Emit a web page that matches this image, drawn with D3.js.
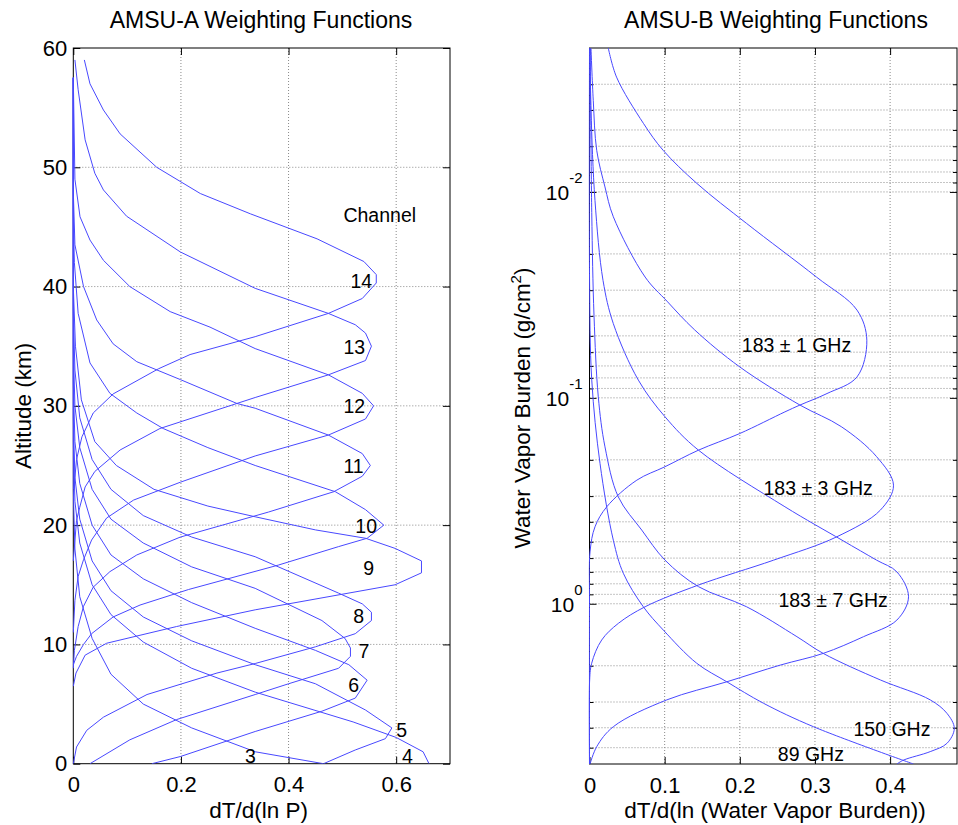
<!DOCTYPE html>
<html>
<head>
<meta charset="utf-8">
<style>
    body { margin: 0; background: #fff; }
    svg { display: block; font-family: 'Liberation Sans', Arial, Helvetica, sans-serif; }
    .grid line { stroke: #8a8a8a; stroke-width: 1; stroke-dasharray: 1, 2; }
    .axis .domain { display: none; }
    .axis .tick line { stroke: #000; }
    .axis .tick text { font-size: 22px; fill: #000; }
    .frame { fill: none; stroke: #000; stroke-width: 1; }
    .wf { fill: none; stroke: #4848ff; stroke-width: 1; }
    .title { font-size: 23px; text-anchor: middle; }
    .axis-label { font-size: 22.5px; text-anchor: middle; }
    .note { font-size: 19.5px; }
</style>
</head>
<body>
<svg width="958" height="825"></svg>

<script src="https://d3js.org/d3.v7.min.js"></script>
<script>
    // ---- AMSU-A weighting functions: [dT/d(ln P), altitude km], top to bottom
    let ch14 = [[0.0205, 59.0], [0.031, 57.0], [0.056, 54.8], [0.087, 52.8], [0.155, 50.0], [0.236, 47.8], [0.329, 46.1], [0.453, 44.0], [0.54, 42.1], [0.563, 41.0], [0.563, 40.3], [0.537, 39.0], [0.474, 37.75], [0.338, 35.8], [0.217, 34.3], [0.158, 33.1], [0.074, 31.0], [0.037, 29.4], [0.016, 27.4], [0.006, 25.5], [0.001, 23.0]]
    let ch13 = [[0.003, 59.0], [0.009, 56.5], [0.022, 52.3], [0.040, 49.5], [0.056, 48.1], [0.099, 45.9], [0.199, 42.9], [0.338, 39.85], [0.474, 37.75], [0.524, 36.8], [0.543, 36.1], [0.554, 35.0], [0.543, 33.8], [0.474, 32.6], [0.338, 30.7], [0.161, 28.1], [0.087, 26.3], [0.040, 24.5], [0.022, 23.2], [0.012, 21.5], [0.006, 20.4], [0.0, 17.0]]
    let ch12 = [[0.0, 57.5], [0.003, 49.0], [0.0125, 45.85], [0.031, 43.9], [0.056, 42.2], [0.105, 40.0], [0.18, 37.9], [0.254, 36.6], [0.338, 34.8], [0.474, 32.6], [0.537, 31.05], [0.558, 30.0], [0.543, 28.9], [0.474, 27.55], [0.338, 25.8], [0.199, 23.6], [0.112, 22.1], [0.062, 20.6], [0.034, 18.75], [0.019, 17.1], [0.009, 15.7], [0.003, 13.7], [0.0, 11.0]]
    let ch11 = [[0.0, 57.5], [0.0, 48.0], [0.003, 43.5], [0.019, 40.0], [0.0435, 37.2], [0.074, 35.2], [0.118, 33.7], [0.199, 32.2], [0.304, 30.2], [0.338, 29.8], [0.474, 27.55], [0.537, 26.0], [0.552, 25.0], [0.537, 24.1], [0.484, 22.8], [0.363, 21.1], [0.199, 19.0], [0.118, 17.5], [0.068, 16.1], [0.037, 14.8], [0.019, 13.2], [0.009, 11.5], [0.002, 9.5], [0.0, 8.0]]
    let ch10 = [[0.0, 57.5], [0.0, 46.0], [0.002, 42.0], [0.009, 37.75], [0.031, 33.6], [0.068, 31.05], [0.118, 29.4], [0.167, 28.1], [0.25, 26.5], [0.338, 25.0], [0.487, 22.8], [0.543, 21.3], [0.577, 20.0], [0.546, 18.9], [0.493, 18.2], [0.381, 16.65], [0.214, 14.6], [0.124, 13.3], [0.074, 12.3], [0.034, 10.9], [0.019, 10.0], [0.006, 9.0], [0.0, 8.3]]
    let ch9 = [[0.0, 57.5], [0.0, 40.0], [0.004, 35.0], [0.015, 30.5], [0.04, 27.0], [0.08, 25.0], [0.15, 23.0], [0.25, 21.6], [0.338, 20.7], [0.45, 19.6], [0.543, 18.9], [0.598, 18.05], [0.647, 17.0], [0.647, 16.0], [0.598, 15.0], [0.338, 12.9], [0.192, 11.5], [0.062, 10.1], [0.022, 9.1], [0.005, 7.6], [0.0, 6.5]]
    let ch8 = [[0.0, 57.5], [0.0, 38.0], [0.003, 33.0], [0.012, 29.0], [0.035, 25.5], [0.07, 23.0], [0.13, 20.8], [0.22, 19.0], [0.338, 17.35], [0.493, 14.3], [0.537, 13.4], [0.554, 12.7], [0.554, 12.0], [0.524, 10.9], [0.450, 9.8], [0.338, 8.4], [0.267, 7.6], [0.137, 5.8], [0.056, 3.9], [0.025, 2.8], [0.006, 1.4], [0.0, 0.0]]
    let ch7 = [[0.0, 57.5], [0.0, 35.0], [0.003, 30.0], [0.012, 26.5], [0.035, 23.0], [0.07, 20.5], [0.13, 18.5], [0.22, 16.5], [0.338, 14.7], [0.462, 12.0], [0.505, 10.5], [0.515, 9.7], [0.515, 9.0], [0.493, 8.0], [0.4, 6.7], [0.338, 5.8], [0.192, 3.7], [0.105, 2.0], [0.031, 0.0]]
    let ch6 = [[0.0, 57.5], [0.0, 32.0], [0.003, 27.0], [0.012, 23.5], [0.035, 20.0], [0.07, 17.5], [0.13, 15.5], [0.22, 13.5], [0.338, 11.35], [0.45, 9.5], [0.512, 8.3], [0.546, 7.0], [0.524, 5.5], [0.462, 4.4], [0.338, 2.7], [0.199, 0.6], [0.146, 0.0]]
    let ch5 = [[0.0, 57.5], [0.0, 29.0], [0.003, 24.0], [0.012, 20.5], [0.035, 17.0], [0.07, 14.5], [0.13, 12.3], [0.22, 10.3], [0.338, 8.3], [0.45, 6.7], [0.543, 4.5], [0.592, 3.0], [0.58, 2.1], [0.524, 1.15], [0.465, 0.0]]
    let ch4 = [[0.0, 57.5], [0.0, 27.0], [0.003, 22.0], [0.012, 18.5], [0.035, 15.0], [0.07, 12.5], [0.13, 10.2], [0.22, 8.0], [0.338, 6.0], [0.52, 3.5], [0.6, 2.2], [0.65, 1.0], [0.661, 0.0]]
    let ch3 = [[0.0, 57.5], [0.0, 23.0], [0.003, 18.0], [0.012, 14.0], [0.035, 10.5], [0.07, 7.5], [0.13, 5.0], [0.22, 3.0], [0.338, 1.0], [0.465, 0.0]]

    let amsuA = [ch3, ch4, ch5, ch6, ch7, ch8, ch9, ch10, ch11, ch12, ch13, ch14]

    // channel labels and where they sit, [dT/d(ln P), altitude]
    let amsuANames = ["Channel", "14", "13", "12", "11", "10", "9", "8", "7", "6", "5", "4", "3"]
    let amsuANameAt = [[0.502, 45.4], [0.515, 39.85], [0.502, 34.35], [0.502, 29.4], [0.502, 24.35], [0.524, 19.3], [0.539, 15.8], [0.52, 11.8], [0.530, 8.85], [0.511, 6.0], [0.600, 2.25], [0.611, 0.1], [0.319, 0.1]]

    // ---- AMSU-B weighting functions: [dT/d(ln burden), burden g/cm2], top to bottom
    let b183p1 = [[0.025, 0.0020], [0.036, 0.00277], [0.072, 0.00466], [0.098, 0.00628], [0.143, 0.0091], [0.209, 0.01422], [0.302, 0.0259], [0.356, 0.0375], [0.369, 0.0525], [0.356, 0.0791], [0.316, 0.0953], [0.280, 0.1084], [0.260, 0.117], [0.2, 0.149], [0.145, 0.1795], [0.1005, 0.216], [0.063, 0.251], [0.023, 0.338], [0.0073, 0.423], [0.0007, 0.56], [0.0, 1.0], [0.0, 6.0]]
    let b183p3 = [[0.002, 0.00201], [0.005, 0.00359], [0.0096, 0.00628], [0.0206, 0.00946], [0.0317, 0.0132], [0.074, 0.0259], [0.103, 0.0339], [0.14, 0.0468], [0.2, 0.0708], [0.28, 0.1084], [0.335, 0.138], [0.382, 0.193], [0.4045, 0.2655], [0.387, 0.351], [0.329, 0.473], [0.245, 0.614], [0.145, 0.811], [0.074, 1.034], [0.0384, 1.245], [0.0162, 1.50], [0.0029, 1.945], [0.0, 2.43], [0.0, 6.0]]
    let b183p7 = [[0.0005, 0.0020], [0.002, 0.004], [0.0073, 0.011], [0.018, 0.0269], [0.0317, 0.0436], [0.065, 0.082], [0.1005, 0.1236], [0.145, 0.1795], [0.26, 0.338], [0.336, 0.491], [0.382, 0.614], [0.409, 0.70], [0.4245, 0.925], [0.409, 1.20], [0.3646, 1.445], [0.311, 1.742], [0.2537, 1.986], [0.1827, 2.393], [0.1028, 2.93], [0.0317, 3.954], [0.0096, 4.943], [0.0007, 6.0]]
    let b150 = [[0.001, 0.0020], [0.003, 0.0126], [0.006, 0.0398], [0.0117, 0.0989], [0.0206, 0.173], [0.0384, 0.303], [0.0695, 0.4385], [0.1005, 0.614], [0.145, 0.826], [0.209, 1.034], [0.276, 1.445], [0.311, 1.742], [0.387, 2.344], [0.4534, 2.93], [0.4756, 3.404], [0.4854, 4.027], [0.4756, 4.764], [0.4534, 5.224], [0.418, 5.741], [0.409, 6.0]]
    let b89 = [[0.0, 0.0020], [0.0, 0.025], [0.003, 0.082], [0.014, 0.2084], [0.0317, 0.491], [0.045, 0.711], [0.0716, 1.034], [0.0983, 1.343], [0.1427, 1.945], [0.1827, 2.393], [0.2314, 3.041], [0.298, 3.954], [0.431, 6.0]]

    let amsuB = [b183p1, b183p3, b183p7, b150, b89]
    let amsuBNames = ["183 \u00b1 1 GHz", "183 \u00b1 3 GHz", "183 \u00b1 7 GHz", "150 GHz", "89 GHz"]
    let amsuBNameAt = [[0.2027, 0.06], [0.2315, 0.2965], [0.2514, 1.034], [0.3513, 4.385], [0.2506, 5.78]]

    // ticks
    let altTicks = [0, 10, 20, 30, 40, 50, 60]
    let dtpTicks = [0, 0.2, 0.4, 0.6]
    let dtbTicks = [0, 0.1, 0.2, 0.3, 0.4]
    let burdenMajor = [0.01, 0.1, 1]
    let burdenExp = ["-2", "-1", "0"]
    let burdenMinor = [0.003, 0.004, 0.005, 0.006, 0.007, 0.008, 0.009,
        0.02, 0.03, 0.04, 0.05, 0.06, 0.07, 0.08, 0.09,
        0.2, 0.3, 0.4, 0.5, 0.6, 0.7, 0.8, 0.9,
        2, 3, 4, 5]

    let svg = d3.select("svg")
    let numFmt = d => d === 0 ? "0" : d3.format(".1f")(d)

    // ===================== left panel =====================
    let A = { left: 73.3, right: 450, top: 48, bottom: 763.7 }

    let xA = d3.scaleLinear().domain([0, 0.7]).range([A.left, A.right])
    let yA = d3.scaleLinear().domain([0, 60]).range([A.bottom, A.top])

    let gA = svg.append("g")

    // grid
    gA.append("g").attr("class", "grid")
        .selectAll("line").data(dtpTicks.slice(1))
        .join("line")
        .attr("x1", d => xA(d)).attr("x2", d => xA(d))
        .attr("y1", A.top).attr("y2", A.bottom)
    gA.append("g").attr("class", "grid")
        .selectAll("line").data(altTicks.slice(1, -1))
        .join("line")
        .attr("x1", A.left).attr("x2", A.right)
        .attr("y1", d => yA(d)).attr("y2", d => yA(d))

    // axes with inward ticks
    gA.append("g").attr("class", "axis")
        .attr("transform", `translate(0,${A.bottom})`)
        .call(d3.axisBottom(xA).tickValues(dtpTicks).tickFormat(numFmt).tickSizeInner(-7).tickSizeOuter(0).tickPadding(13))
    gA.append("g").attr("class", "axis")
        .attr("transform", `translate(0,${A.top})`)
        .call(d3.axisTop(xA).tickValues(dtpTicks).tickFormat("").tickSizeInner(-7).tickSizeOuter(0))
    gA.append("g").attr("class", "axis")
        .attr("transform", `translate(${A.left},0)`)
        .call(d3.axisLeft(yA).tickValues(altTicks).tickSizeInner(-7).tickSizeOuter(0).tickPadding(6))
    gA.append("g").attr("class", "axis")
        .attr("transform", `translate(${A.right},0)`)
        .call(d3.axisRight(yA).tickValues(altTicks).tickFormat("").tickSizeInner(-7).tickSizeOuter(0))

    gA.append("rect").attr("class", "frame")
        .attr("x", A.left).attr("y", A.top)
        .attr("width", A.right - A.left).attr("height", A.bottom - A.top)

    svg.append("clipPath").attr("id", "clipA")
        .append("rect")
        .attr("x", A.left - 1).attr("y", A.top)
        .attr("width", A.right - A.left + 1).attr("height", A.bottom - A.top)

    let lineA = d3.line()
        .x(d => xA(d[0]))
        .y(d => yA(d[1]))

    gA.append("g").attr("clip-path", "url(#clipA)")
        .selectAll("path").data(amsuA)
        .join("path")
        .attr("class", "wf")
        .attr("d", lineA)

    gA.append("g").selectAll("text").data(amsuANames)
        .join("text")
        .attr("class", "note")
        .attr("x", (d, i) => xA(amsuANameAt[i][0]))
        .attr("y", (d, i) => yA(amsuANameAt[i][1]))
        .text(d => d)

    svg.append("text").attr("class", "title")
        .attr("x", 261).attr("y", 28)
        .text("AMSU-A Weighting Functions")
    svg.append("text").attr("class", "axis-label")
        .attr("x", (A.left + A.right) / 2 - 3).attr("y", 818)
        .text("dT/d(ln P)")
    svg.append("text").attr("class", "axis-label")
        .attr("transform", `translate(31,${(A.top + A.bottom) / 2}) rotate(-90)`)
        .text("Altitude (km)")

    // ===================== right panel =====================
    let B = { left: 589.5, right: 957, top: 48, bottom: 764 }

    let xB = d3.scaleLinear().domain([0, 0.489]).range([B.left, B.right])
    let yB = d3.scaleLog().domain([0.002, 6]).range([B.top, B.bottom])

    let gB = svg.append("g")

    gB.append("g").attr("class", "grid")
        .selectAll("line").data(dtbTicks.slice(1))
        .join("line")
        .attr("x1", d => xB(d)).attr("x2", d => xB(d))
        .attr("y1", B.top).attr("y2", B.bottom)
    gB.append("g").attr("class", "grid")
        .selectAll("line").data(burdenMajor.concat(burdenMinor))
        .join("line")
        .attr("x1", B.left).attr("x2", B.right)
        .attr("y1", d => yB(d)).attr("y2", d => yB(d))

    gB.append("g").attr("class", "axis")
        .attr("transform", `translate(0,${B.bottom})`)
        .call(d3.axisBottom(xB).tickValues(dtbTicks).tickFormat(numFmt).tickSizeInner(-7).tickSizeOuter(0).tickPadding(13))
    gB.append("g").attr("class", "axis")
        .attr("transform", `translate(0,${B.top})`)
        .call(d3.axisTop(xB).tickValues(dtbTicks).tickFormat("").tickSizeInner(-7).tickSizeOuter(0))
    gB.append("g").attr("class", "axis")
        .attr("transform", `translate(${B.left},0)`)
        .call(d3.axisLeft(yB).tickValues(burdenMajor).tickFormat("").tickSizeInner(-7).tickSizeOuter(0))
    gB.append("g").attr("class", "axis")
        .attr("transform", `translate(${B.left},0)`)
        .call(d3.axisLeft(yB).tickValues(burdenMinor).tickFormat("").tickSizeInner(-4).tickSizeOuter(0))
    gB.append("g").attr("class", "axis")
        .attr("transform", `translate(${B.right},0)`)
        .call(d3.axisRight(yB).tickValues(burdenMajor).tickFormat("").tickSizeInner(-7).tickSizeOuter(0))
    gB.append("g").attr("class", "axis")
        .attr("transform", `translate(${B.right},0)`)
        .call(d3.axisRight(yB).tickValues(burdenMinor).tickFormat("").tickSizeInner(-4).tickSizeOuter(0))

    // 10^n labels
    let powLabels = gB.append("g").selectAll("text").data(burdenMajor)
        .join("text")
        .attr("x", B.left - 7)
        .attr("y", d => yB(d) + 8)
        .attr("text-anchor", "end")
        .style("font-size", "21px")
    powLabels.append("tspan").text("10")
    powLabels.append("tspan")
        .attr("dy", -17)
        .style("font-size", "15px")
        .text((d, i) => burdenExp[i])

    gB.append("rect").attr("class", "frame")
        .attr("x", B.left).attr("y", B.top)
        .attr("width", B.right - B.left).attr("height", B.bottom - B.top)

    svg.append("clipPath").attr("id", "clipB")
        .append("rect")
        .attr("x", B.left - 1).attr("y", B.top)
        .attr("width", B.right - B.left + 1).attr("height", B.bottom - B.top)

    let lineB = d3.line()
        .x(d => xB(d[0]))
        .y(d => yB(d[1]))
        .curve(d3.curveCatmullRom.alpha(0.5))

    gB.append("g").attr("clip-path", "url(#clipB)")
        .selectAll("path").data(amsuB)
        .join("path")
        .attr("class", "wf")
        .attr("d", lineB)

    gB.append("g").selectAll("text").data(amsuBNames)
        .join("text")
        .attr("class", "note")
        .attr("x", (d, i) => xB(amsuBNameAt[i][0]))
        .attr("y", (d, i) => yB(amsuBNameAt[i][1]))
        .text(d => d)

    svg.append("text").attr("class", "title")
        .attr("x", 776).attr("y", 28)
        .text("AMSU-B Weighting Functions")
    svg.append("text").attr("class", "axis-label")
        .attr("x", 775).attr("y", 818)
        .text("dT/d(ln (Water Vapor Burden))")
    let yLabB = svg.append("text").attr("class", "axis-label")
        .attr("transform", `translate(530,408) rotate(-90)`)
    yLabB.append("tspan").text("Water Vapor Burden (g/cm")
    yLabB.append("tspan").attr("dy", -9).style("font-size", "15px").text("2")
    yLabB.append("tspan").attr("dy", 9).text(")")
</script>
</body>
</html>
